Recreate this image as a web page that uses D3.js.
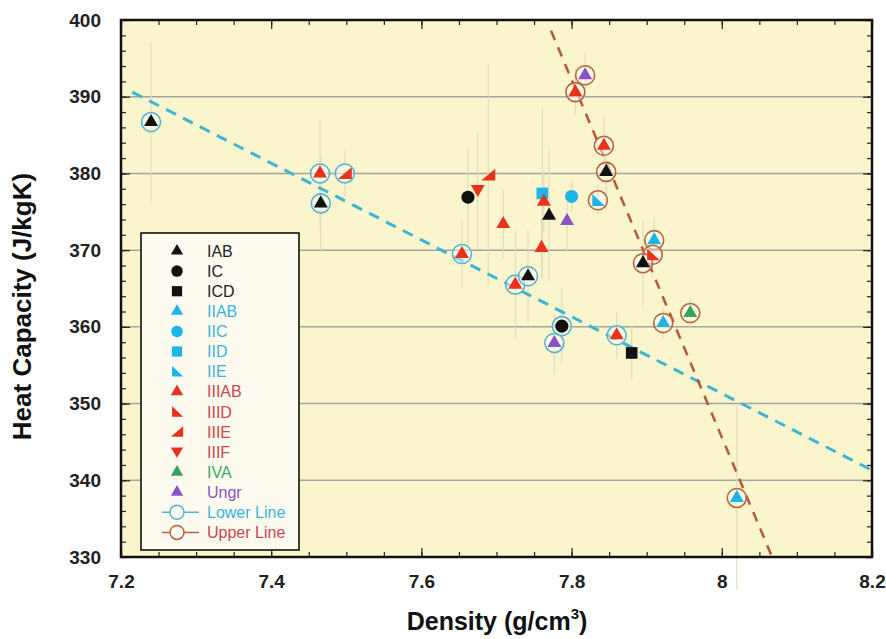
<!DOCTYPE html>
<html>
<head>
<meta charset="utf-8">
<script src="https://cdn.jsdelivr.net/npm/d3@7"></script>
<style>
  body { margin: 0; background: #fff; }
  text { font-family: "Liberation Sans", Arial, sans-serif; }
</style>
</head>
<body>
<div id="chart"></div>
<script>
// meteorite groups, in legend order
var groupNames = ['IAB', 'IC', 'ICD', 'IIAB', 'IIC', 'IID', 'IIE', 'IIIAB', 'IIID', 'IIIE', 'IIIF', 'IVA', 'Ungr'];
var groupShapes = ['tri', 'circle', 'square', 'tri', 'circle', 'square', 'ltri', 'tri', 'ltri', 'rtri', 'dtri', 'tri', 'tri'];
var groupColors = ['#111111', '#111111', '#111111', '#1db4e8', '#1db4e8', '#1db4e8', '#1db4e8',
	'#e8321e', '#e8321e', '#e8321e', '#e8321e', '#33a55a', '#8a52c6'];
var labelColors = ['#222222', '#222222', '#222222', '#3cb2dc', '#3cb2dc', '#3cb2dc', '#3cb2dc',
	'#cc4550', '#cc4550', '#cc4550', '#cc4550', '#3aa864', '#8a55c0'];

var density = [7.240, 7.465, 7.498, 7.466, 7.662, 7.675, 7.689, 7.709, 7.654, 7.725, 7.742,
	7.761, 7.763, 7.770, 7.760, 7.794, 7.800, 7.835, 7.787, 7.777, 7.860, 7.880,
	7.818, 7.805, 7.843, 7.846, 7.910, 7.908, 7.895, 7.922, 7.958, 8.020];
var heatCap = [386.7, 380.0, 380.0, 376.1, 376.9, 377.8, 379.8, 373.4, 369.5, 365.5, 366.6,
	377.4, 376.3, 374.5, 370.3, 373.8, 377.0, 376.5, 360.1, 357.9, 358.9, 356.6,
	392.8, 390.6, 383.6, 380.2, 371.3, 369.4, 368.3, 360.5, 361.8, 337.7];
var heatErr = [10.4, 7, 3, 6.3, 6.3, 7.6, 14.5, 4.5, 4.5, 7, 6,
	11, 4, 8.5, 4, 4, 2, 2, 5, 4, 3, 3.5,
	3, 3, 4, 5, 3, 3, 5.5, 2, 2, 12];
var group = ['IAB', 'IIIAB', 'IIIE', 'IAB', 'IC', 'IIIF', 'IIIE', 'IIIAB', 'IIIAB', 'IIIAB', 'IAB',
	'IID', 'IIIAB', 'IAB', 'IIIAB', 'Ungr', 'IIC', 'IIE', 'IC', 'Ungr', 'IIIAB', 'ICD',
	'Ungr', 'IIIAB', 'IIIAB', 'IAB', 'IIAB', 'IIID', 'IAB', 'IIAB', 'IVA', 'IIAB'];
// which fitted line a point belongs to: L = lower, U = upper, '' = none
var fitLine = ['L', 'L', 'L', 'L', '', '', '', '', 'L', 'L', 'L',
	'', '', '', '', '', '', 'U', 'L', 'L', 'L', '',
	'U', 'U', 'U', 'U', 'U', 'U', 'U', 'U', 'U', 'U'];

var lowerLine = [[7.215, 390.6], [8.2, 341.3]];
var upperLine = [[7.7726, 398.6], [8.067, 330]];

var xTicks = [7.2, 7.4, 7.6, 7.8, 8.0, 8.2];
var xTickLabels = ['7.2', '7.4', '7.6', '7.8', '8', '8.2'];
var yTicks = [330, 340, 350, 360, 370, 380, 390, 400];

var margin = {left: 121, top: 20, right: 14, bottom: 82};
var width = 886 - margin.left - margin.right;
var height = 639 - margin.top - margin.bottom;

var svg = d3.select('#chart').append('svg')
	.attr('width', 886)
	.attr('height', 639);
var g = svg.append('g')
	.attr('transform', 'translate(' + margin.left + ',' + margin.top + ')');

var x = d3.scaleLinear().domain([7.2, 8.2]).range([0, width]);
var y = d3.scaleLinear().domain([330, 400]).range([height, 0]);

// background
g.append('rect')
	.attr('width', width).attr('height', height)
	.attr('fill', '#faf5cd');

// horizontal grid lines
g.selectAll('.grid')
	.data(yTicks.slice(1, -1)).enter()
	.append('line')
		.attr('x1', 0).attr('x2', width)
		.attr('y1', function(d) { return y(d); })
		.attr('y2', function(d) { return y(d); })
		.attr('stroke', '#a3a3a0')
		.attr('stroke-width', 1.5);

// inward ticks on all four sides
function tickAxis(axis, tickVals, len) {
	return axis.tickValues(tickVals).tickSize(-len).tickFormat('');
}
var xMinor = d3.range(7.2, 8.2001, 0.05);
var yMinor = d3.range(330, 400.01, 2);
[[d3.axisBottom(x), 'translate(0,' + height + ')', xMinor, 5], [d3.axisBottom(x), 'translate(0,' + height + ')', xTicks, 9],
 [d3.axisTop(x), null, xMinor, 5], [d3.axisTop(x), null, xTicks, 9],
 [d3.axisLeft(y), null, yMinor, 5], [d3.axisLeft(y), null, yTicks, 9],
 [d3.axisRight(y), 'translate(' + width + ',0)', yMinor, 5], [d3.axisRight(y), 'translate(' + width + ',0)', yTicks, 9]]
.forEach(function(a) {
	var ax = g.append('g').call(tickAxis(a[0], a[2], a[3]));
	if (a[1]) ax.attr('transform', a[1]);
	ax.select('.domain').remove();
	ax.selectAll('line').attr('stroke', '#222').attr('stroke-width', 1.2);
});

// tick labels
g.append('g')
	.attr('transform', 'translate(0,' + height + ')')
	.call(d3.axisBottom(x).tickValues(xTicks).tickSize(0).tickPadding(18)
		.tickFormat(function(d, i) { return xTickLabels[i]; }))
	.call(function(s) { s.select('.domain').remove(); })
	.selectAll('text')
		.style('font-family', '"Liberation Sans", Arial, sans-serif')
		.style('font-size', '19px').style('font-weight', 'bold').attr('fill', '#222');
g.append('g')
	.call(d3.axisLeft(y).tickValues(yTicks).tickSize(0).tickPadding(20))
	.call(function(s) { s.select('.domain').remove(); })
	.selectAll('text')
		.style('font-family', '"Liberation Sans", Arial, sans-serif')
		.style('font-size', '19px').style('font-weight', 'bold').attr('fill', '#222');

// error bars
var idx = d3.range(density.length);
g.selectAll('.err')
	.data(idx).enter()
	.append('line')
		.attr('x1', function(i) { return x(density[i]); })
		.attr('x2', function(i) { return x(density[i]); })
		.attr('y1', function(i) { return y(heatCap[i] + heatErr[i]); })
		.attr('y2', function(i) { return y(heatCap[i] - heatErr[i]); })
		.attr('stroke', '#dedabf')
		.attr('stroke-width', 1.1);

// fitted lines
var line = d3.line().x(function(d) { return x(d[0]); }).y(function(d) { return y(d[1]); });
g.append('path').attr('d', line(lowerLine))
	.attr('fill', 'none').attr('stroke', '#3db5d6').attr('stroke-width', 3)
	.attr('stroke-dasharray', '11,8');
g.append('path').attr('d', line(upperLine))
	.attr('fill', 'none').attr('stroke', '#b5583c').attr('stroke-width', 2.5)
	.attr('stroke-dasharray', '10,8');

// marker paths
function shapePath(shape, s) {
	if (shape == 'tri') return d3.symbol(d3.symbolTriangle, 85 * s * s)();
	if (shape == 'circle') return d3.symbol(d3.symbolCircle, 135 * s * s)();
	if (shape == 'square') return d3.symbol(d3.symbolSquare, 135 * s * s)();
	var h = 7 * s;
	if (shape == 'dtri') return 'M' + (-h) + ',' + (-h * 0.75) + 'L' + h + ',' + (-h * 0.75) + 'L0,' + (h * 0.95) + 'Z';
	if (shape == 'rtri') return 'M' + (-h) + ',' + (h * 0.8) + 'L' + h + ',' + (h * 0.8) + 'L' + h + ',' + (-h * 0.9) + 'Z';
	if (shape == 'ltri') return 'M' + (-h * 0.8) + ',' + (-h * 0.9) + 'L' + (-h * 0.8) + ',' + (h * 0.8) + 'L' + h + ',' + (h * 0.8) + 'Z';
}
var ringColor = {L: '#52b6d2', U: '#b4653e'};

// rings around fitted points
g.selectAll('.ring')
	.data(idx.filter(function(i) { return fitLine[i] != ''; })).enter()
	.append('circle')
		.attr('cx', function(i) { return x(density[i]); })
		.attr('cy', function(i) { return y(heatCap[i]); })
		.attr('r', 9.5)
		.attr('fill', '#ffffff').attr('fill-opacity', 0.45)
		.attr('stroke', function(i) { return ringColor[fitLine[i]]; })
		.attr('stroke-width', 1.6);

// markers
g.selectAll('.pt')
	.data(idx).enter()
	.append('path')
		.attr('transform', function(i) { return 'translate(' + x(density[i]) + ',' + y(heatCap[i]) + ')'; })
		.attr('d', function(i) { return shapePath(groupShapes[groupNames.indexOf(group[i])], 1); })
		.attr('fill', function(i) { return groupColors[groupNames.indexOf(group[i])]; });

// frame
g.append('rect')
	.attr('width', width).attr('height', height)
	.attr('fill', 'none').attr('stroke', '#111').attr('stroke-width', 2.5);

// legend
var lx = 141 - margin.left, ly = 233 - margin.top, rowH = 20.1;
g.append('rect')
	.attr('x', lx).attr('y', ly).attr('width', 158).attr('height', 317)
	.attr('fill', '#fdfbf0').attr('stroke', '#111').attr('stroke-width', 1.6);
var leg = g.selectAll('.leg')
	.data(groupNames).enter()
	.append('g')
		.attr('transform', function(d, i) { return 'translate(' + (lx + 36) + ',' + (ly + 18 + i * rowH) + ')'; });
leg.append('path')
	.attr('d', function(d, i) { return shapePath(groupShapes[i], 0.88); })
	.attr('fill', function(d, i) { return groupColors[i]; });
leg.append('text')
	.attr('x', 30).attr('dy', '0.36em')
	.style('font-size', '16px')
	.attr('fill', function(d, i) { return labelColors[i]; })
	.text(function(d) { return d; });

var lineLegend = [['Lower Line', 'L', '#3cb2dc'], ['Upper Line', 'U', '#cc4550']];
var leg2 = g.selectAll('.leg2')
	.data(lineLegend).enter()
	.append('g')
		.attr('transform', function(d, i) { return 'translate(' + (lx + 36) + ',' + (ly + 18 + (groupNames.length + i) * rowH) + ')'; });
leg2.append('line')
	.attr('x1', -15).attr('x2', 22)
	.attr('stroke', function(d) { return ringColor[d[1]]; }).attr('stroke-width', 1.5);
leg2.append('circle')
	.attr('r', 7).attr('fill', '#fdfbf0')
	.attr('stroke', function(d) { return ringColor[d[1]]; }).attr('stroke-width', 1.5);
leg2.append('text')
	.attr('x', 30).attr('dy', '0.36em')
	.style('font-size', '16px')
	.attr('fill', function(d) { return d[2]; })
	.text(function(d) { return d[0]; });

// axis titles
svg.append('text')
	.attr('transform', 'translate(31,' + (margin.top + height / 2 + 18) + ') rotate(-90)')
	.attr('text-anchor', 'middle')
	.style('font-size', '26px').style('font-weight', 'bold').attr('fill', '#111')
	.text('Heat Capacity (J/kgK)');
var xt = svg.append('text')
	.attr('x', 497).attr('y', 630)
	.attr('text-anchor', 'middle')
	.style('font-size', '25px').style('font-weight', 'bold').attr('fill', '#111');
xt.append('tspan').text('Density (g/cm');
xt.append('tspan').attr('dy', -11).style('font-size', '15px').text('3');
xt.append('tspan').attr('dy', 11).text(')');
</script>
</body>
</html>
